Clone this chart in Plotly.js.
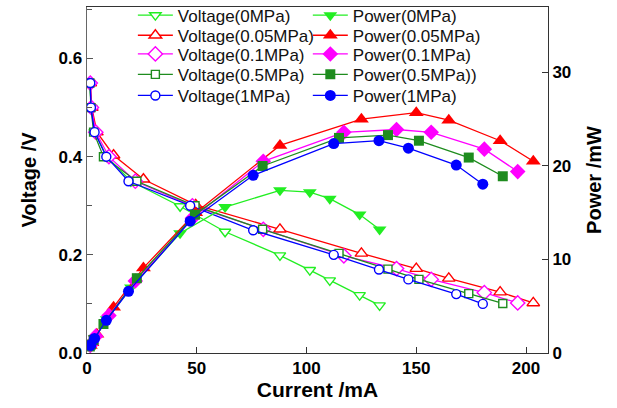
<!DOCTYPE html>
<html>
<head>
<meta charset="utf-8">
<script src="https://cdn.plot.ly/plotly-3.0.1.min.js"></script>
<style>html,body{margin:0;padding:0;background:#fff;}#chart{width:617px;height:408px;}</style>
</head>
<body>
<div id="chart"></div>
<script>
// Data
const seriesNames = ["0MPa", "0.05MPa", "0.1MPa", "0.5MPa", "1MPa"];

const current0   = [1.2, 2.0, 3.5, 9.0, 20.0, 42.4, 62.9, 87.9, 101.5, 110.6, 124.2, 133.3];
const voltage0   = [0.55, 0.50, 0.45, 0.40, 0.35, 0.299, 0.247, 0.199, 0.169, 0.148, 0.118, 0.097];
const power0     = [0.7, 1.0, 1.6, 3.6, 7.0, 12.8, 15.6, 17.4, 17.2, 16.5, 14.8, 13.2];

const current005 = [1.5, 2.2, 4.5, 12.1, 25.7, 49.5, 87.9, 125.0, 150.0, 164.8, 188.2, 203.3];
const voltage005 = [0.55, 0.50, 0.45, 0.403, 0.354, 0.302, 0.252, 0.203, 0.172, 0.152, 0.124, 0.102];
const power005   = [0.8, 1.1, 2.0, 4.9, 9.1, 15.0, 22.2, 25.0, 25.7, 24.9, 22.7, 20.5];

const current01  = [1.5, 2.0, 4.0, 10.0, 22.0, 48.0, 80.3, 117.0, 141.0, 156.8, 181.0, 196.2];
const voltage01  = [0.55, 0.50, 0.45, 0.40, 0.35, 0.30, 0.252, 0.198, 0.172, 0.150, 0.123, 0.102];
const power01    = [0.8, 1.0, 1.8, 4.0, 7.7, 14.4, 20.5, 23.6, 23.9, 23.6, 21.8, 19.4];

const current05  = [1.3, 1.8, 3.0, 7.5, 22.7, 49.2, 80.0, 114.8, 137.1, 151.2, 173.9, 189.4];
const voltage05  = [0.55, 0.50, 0.45, 0.40, 0.35, 0.30, 0.252, 0.203, 0.171, 0.150, 0.121, 0.101];
const power05    = [0.7, 0.9, 1.4, 3.1, 8.0, 14.8, 20.0, 23.0, 23.3, 22.7, 20.9, 18.9];

const current1   = [1.5, 1.8, 3.45, 8.8, 18.9, 47.0, 75.7, 112.4, 133.0, 146.4, 168.2, 180.3];
const voltage1   = [0.55, 0.50, 0.45, 0.40, 0.35, 0.30, 0.25, 0.20, 0.17, 0.15, 0.12, 0.10];
const power1     = [0.8, 0.9, 1.55, 3.5, 6.6, 14.1, 19.0, 22.4, 22.7, 21.9, 20.1, 18.05];

const xTicks = [0, 50, 100, 150, 200];
const yTicks = [0.0, 0.2, 0.4, 0.6];
const y2Ticks = [0, 10, 20, 30];

const colors  = ["#22ee22", "#ff0000", "#ff00ff", "#1e8c1e", "#0000ff"];
const vSymbols = ["triangle-down", "triangle-up", "diamond", "square", "circle"];
const vSizes = [10, 11, 11, 8, 9];
const pSizes = [12, 13, 12, 10, 11];
const currents = [current0, current005, current01, current05, current1];
const voltages = [voltage0, voltage005, voltage01, voltage05, voltage1];
const powers = [power0, power005, power01, power05, power1];
const powerLegend = ["Power(0MPa)", "Power(0.05MPa)", "Power(0.1MPa)", "Power(0.5MPa))", "Power(1MPa)"];

const font = "Arial, 'Liberation Sans', sans-serif";
const rowY = [0.975, 0.917, 0.863, 0.804, 0.743];
const colX = [0.0995, 0.479];

const traces = [];
const layout = {
  width: 617, height: 408,
  margin: {l: 87, r: 69, t: 7, b: 55, pad: 0, autoexpand: false},
  paper_bgcolor: "#ffffff", plot_bgcolor: "#ffffff",
  font: {family: font, color: "#000000"},
  showlegend: true,
  xaxis: {
    range: [0, 210], tickvals: xTicks, ticktext: xTicks.map(String),
    ticks: "inside", ticklen: 6, tickwidth: 1, tickcolor: "#333",
    showline: true, linecolor: "#333", linewidth: 1, mirror: true,
    showgrid: false, zeroline: false,
    tickfont: {family: font, size: 17, weight: "bold"},
    title: {text: "Current /mA", font: {family: font, size: 21, weight: "bold"}, standoff: 4}
  },
  yaxis: {
    range: [0, 0.705], tickvals: yTicks, ticktext: yTicks.map(v => v.toFixed(1)),
    ticks: "inside", ticklen: 6, tickwidth: 1, tickcolor: "#555",
    minor: {dtick: 0.1, tick0: 0, ticks: "inside", ticklen: 5, tickcolor: "#555", showgrid: false},
    showline: true, linecolor: "#666", linewidth: 1.5,
    showgrid: false, zeroline: false,
    tickfont: {family: font, size: 17, weight: "bold"},
    title: {text: "Voltage /V", font: {family: font, size: 20, weight: "bold"}, standoff: 16}
  },
  yaxis2: {
    range: [0, 37], tickvals: y2Ticks, ticktext: y2Ticks.map(String),
    overlaying: "y", side: "right",
    ticks: "inside", ticklen: 6, tickwidth: 1, tickcolor: "#333",
    showline: true, linecolor: "#333", linewidth: 1,
    showgrid: false, zeroline: false,
    tickfont: {family: font, size: 17, weight: "bold"},
    title: {text: "Power /mW", font: {family: font, size: 20, weight: "bold"}, standoff: 16}
  }
};

function legendSpec(x, y) {
  return {
    x: x, y: y, xanchor: "left", yanchor: "middle",
    font: {family: font, size: 17, color: "#111"},
    bgcolor: "rgba(0,0,0,0)", borderwidth: 0, itemwidth: 35
  };
}

for (let i = 0; i < 5; i++) {
  const lv = "legend" + (2 * i === 0 ? "" : (2 * i + 1));
  const lp = "legend" + (2 * i + 2);
  layout[lv] = legendSpec(colX[0], rowY[i]);
  layout[lp] = legendSpec(colX[1], rowY[i]);
  traces.push({
    x: currents[i], y: voltages[i], type: "scatter", mode: "lines+markers",
    name: "Voltage(" + seriesNames[i] + ")", yaxis: "y", legend: lv,
    line: {color: colors[i], width: 1.3},
    marker: {symbol: vSymbols[i], size: vSizes[i], color: "#ffffff", line: {color: colors[i], width: 1.4}}
  });
  traces.push({
    x: currents[i], y: powers[i], type: "scatter", mode: "lines+markers",
    name: powerLegend[i], yaxis: "y2", legend: lp,
    line: {color: colors[i], width: 1.3},
    marker: {symbol: vSymbols[i], size: pSizes[i], color: colors[i], line: {color: colors[i], width: 0}}
  });
}

Plotly.newPlot("chart", traces, layout, {displayModeBar: false, staticPlot: true});
</script>
</body>
</html>
